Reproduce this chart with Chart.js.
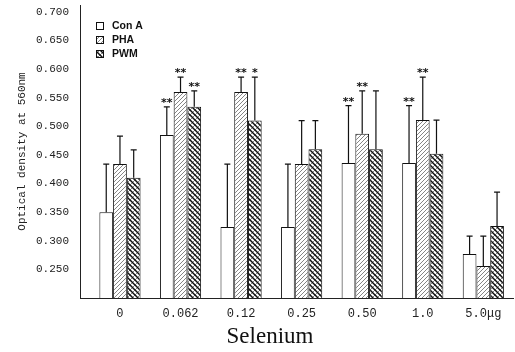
<!DOCTYPE html>
<html>
<head>
<meta charset="utf-8">
<script src="https://cdn.jsdelivr.net/npm/chart.js@4"></script>
<style>
  html, body { margin: 0; padding: 0; background: #fff; }
  #wrap { width: 515px; height: 352px; }
</style>
</head>
<body>
<div id="wrap"><canvas id="chart"></canvas></div>
<script>
// values (mean and mean+SD)
const categories = ['0', '0.062', '0.12', '0.25', '0.50', '1.0', '5.0μg'];
const conA = [0.350, 0.485, 0.324, 0.324, 0.436, 0.436, 0.277];
const pha  = [0.434, 0.560, 0.560, 0.434, 0.487, 0.511, 0.256];
const pwm  = [0.410, 0.534, 0.510, 0.460, 0.460, 0.452, 0.326];
const conAErr = [0.434, 0.534, 0.434, 0.434, 0.536, 0.536, 0.308];
const phaErr  = [0.483, 0.586, 0.586, 0.510, 0.562, 0.586, 0.308];
const pwmErr  = [0.459, 0.562, 0.586, 0.510, 0.562, 0.511, 0.385];
const conAStars = ['', '**', '', '', '**', '**', ''];
const phaStars  = ['', '**', '**', '', '**', '**', ''];
const pwmStars  = ['', '**', '*', '', '', '', ''];
const yTicks = [0.25, 0.30, 0.35, 0.40, 0.45, 0.50, 0.55, 0.60, 0.65, 0.70];
const yTickLabels = ['0.250', '0.300', '0.350', '0.400', '0.450', '0.500', '0.550', '0.600', '0.650', '0.700'];

const canvas = document.getElementById('chart');
const ctx = canvas.getContext('2d');

function hatch(size, draw) {
  const c = document.createElement('canvas');
  c.width = c.height = size;
  const g = c.getContext('2d');
  g.fillStyle = '#fff';
  g.fillRect(0, 0, size, size);
  draw(g, size);
  return ctx.createPattern(c, 'repeat');
}

function slash(g, s) {
  g.beginPath();
  g.moveTo(-1, s + 1); g.lineTo(s + 1, -1);
  g.moveTo(-1, 1); g.lineTo(1, -1);
  g.moveTo(s - 1, s + 1); g.lineTo(s + 1, s - 1);
  g.stroke();
}
function backslash(g, s) {
  g.beginPath();
  g.moveTo(-1, -1); g.lineTo(s + 1, s + 1);
  g.moveTo(s - 1, -1); g.lineTo(s + 1, 1);
  g.moveTo(-1, s - 1); g.lineTo(1, s + 1);
  g.stroke();
}

const phaFill = hatch(4, (g, s) => {
  g.strokeStyle = '#777'; g.lineWidth = 0.9;
  slash(g, s);
});
const pwmFill = hatch(5, (g, s) => {
  g.strokeStyle = '#666'; g.lineWidth = 0.8;
  slash(g, s);
  g.strokeStyle = '#111'; g.lineWidth = 1.5;
  backslash(g, s);
});

function pts(arr) {
  return arr.map((v, i) => ({ x: i, y: v }));
}

const overlay = {
  id: 'overlay',
  afterDatasetsDraw(chart) {
    const c = chart.ctx;
    const y = chart.scales.y;
    c.save();
    c.strokeStyle = '#111';
    c.fillStyle = '#111';
    c.lineWidth = 1.2;
    c.textAlign = 'center';
    c.textBaseline = 'alphabetic';
    c.font = 'bold 11px "DejaVu Sans", sans-serif';
    chart.data.datasets.forEach((ds, di) => {
      chart.getDatasetMeta(di).data.forEach((bar, i) => {
        const top = y.getPixelForValue(ds.errHigh[i]);
        c.beginPath();
        c.moveTo(bar.x, bar.y);
        c.lineTo(bar.x, top);
        c.moveTo(bar.x - 3, top);
        c.lineTo(bar.x + 3, top);
        c.stroke();
        if (ds.stars[i]) c.fillText(ds.stars[i], bar.x, top - 1);
      });
    });

    // legend
    c.textAlign = 'left';
    c.textBaseline = 'middle';
    c.font = 'bold 10.5px "Liberation Sans Narrow", "Liberation Sans", Arial, sans-serif';
    c.lineWidth = 1;
    chart.data.datasets.forEach((ds, di) => {
      const cy = 26 + di * 14;
      c.fillStyle = ds.backgroundColor;
      c.fillRect(96, cy - 4, 8, 8);
      c.strokeRect(96.5, cy - 3.5, 7, 7);
      c.fillStyle = '#111';
      c.fillText(ds.label, 112, cy);
    });

    // axis caption
    c.textAlign = 'center';
    c.font = '23px "Liberation Serif", "Times New Roman", serif';
    c.fillText('Selenium', 270, 337);
    c.restore();
  }
};

new Chart(canvas, {
  type: 'bar',
  data: {
    datasets: [{
      label: 'Con A',
      data: pts(conA),
      errHigh: conAErr,
      stars: conAStars,
      backgroundColor: '#fff',
      borderColor: '#111',
      borderWidth: 1
    }, {
      label: 'PHA',
      data: pts(pha),
      errHigh: phaErr,
      stars: phaStars,
      backgroundColor: phaFill,
      borderColor: '#111',
      borderWidth: 1
    }, {
      label: 'PWM',
      data: pts(pwm),
      errHigh: pwmErr,
      stars: pwmStars,
      backgroundColor: pwmFill,
      borderColor: '#111',
      borderWidth: 1
    }]
  },
  plugins: [overlay],
  options: {
    responsive: true,
    maintainAspectRatio: false,
    animation: false,
    categoryPercentage: 0.68,
    barPercentage: 1,
    layout: { padding: { top: 5, right: 2, left: 0, bottom: 0 } },
    plugins: {
      legend: { display: false },
      tooltip: { enabled: false }
    },
    scales: {
      x: {
        type: 'linear',
        offset: false,
        min: -0.66,
        max: 6.49,
        afterBuildTicks: scale => {
          scale.ticks = categories.map((c, i) => ({ value: i }));
        },
        afterFit: scale => {
          scale.height = 54;
          scale.paddingLeft = 0;
          scale.paddingRight = 0;
        },
        grid: { display: false, drawTicks: false },
        border: { display: true, color: '#222', width: 1 },
        ticks: {
          padding: 9,
          color: '#222',
          font: { family: '"Liberation Mono", monospace', size: 12 },
          callback: (v, i) => categories[i]
        }
      },
      y: {
        min: 0.2,
        max: 0.712,
        afterBuildTicks: scale => {
          scale.ticks = yTicks.map(v => ({ value: v }));
        },
        afterFit: scale => {
          scale.width = 80;
          scale.paddingTop = 0;
          scale.paddingBottom = 0;
        },
        grid: { display: false, drawTicks: false },
        border: { display: true, color: '#222', width: 1 },
        ticks: {
          padding: 11,
          color: '#222',
          font: { family: '"Liberation Mono", monospace', size: 11 },
          callback: (v, i) => yTickLabels[i]
        },
        title: {
          display: true,
          text: 'Optical density at 560nm',
          color: '#222',
          padding: { top: 15, bottom: 0 },
          font: { family: '"Liberation Mono", monospace', size: 11 }
        }
      }
    }
  }
});
</script>
</body>
</html>
